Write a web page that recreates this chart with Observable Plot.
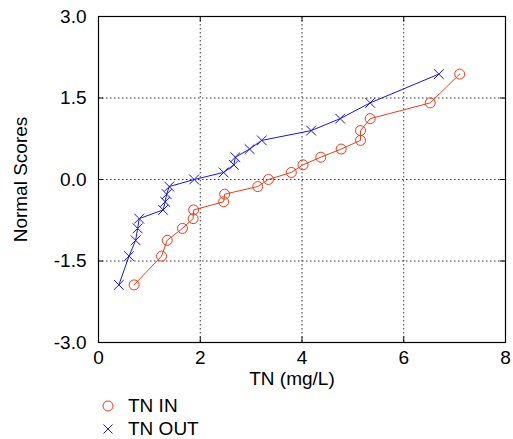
<!DOCTYPE html>
<html>
<head>
<meta charset="utf-8">
<script src="https://cdn.jsdelivr.net/npm/d3@7"></script>
<script src="https://cdn.jsdelivr.net/npm/@observablehq/plot@0.6"></script>
<style>
  body { margin: 0; background: #fff; font-family: "Liberation Sans", Arial, sans-serif; }
  #legend { position: relative; height: 44px; }
  .row { position: absolute; left: 98px; height: 22px; display: flex; align-items: center; font-size: 19px; color: #000; }
  .row svg { margin-right: 10px; }
</style>
</head>
<body>
<div id="chart"></div>
<div id="legend"></div>
<script>
// Data
const normalScores = [-1.94, -1.41, -1.12, -0.90, -0.72, -0.56, -0.41, -0.27, -0.13, 0.00, 0.13, 0.27, 0.41, 0.56, 0.72, 0.90, 1.12, 1.41, 1.94];
const tnIn  = [0.70, 1.24, 1.35, 1.65, 1.86, 1.87, 2.46, 2.48, 3.13, 3.34, 3.79, 4.02, 4.37, 4.77, 5.15, 5.15, 5.34, 6.52, 7.10];
const tnOut = [0.40, 0.60, 0.73, 0.77, 0.80, 1.27, 1.31, 1.34, 1.39, 1.88, 2.46, 2.66, 2.69, 2.97, 3.21, 4.18, 4.75, 5.34, 6.69];
const seriesNames = ["TN IN", "TN OUT"];
const xTicks = [0, 2, 4, 6, 8];
const yTicks = [-3, -1.5, 0, 1.5, 3];
const yTickLabels = ["-3.0", "-1.5", "0.0", "1.5", "3.0"];
const xLabel = "TN (mg/L)";
const yLabel = "Normal Scores";

const redColor = "#ee3c18";
const blueColor = "#1414f0";

const inData = tnIn.map((x, i) => ({x, y: normalScores[i]}));
const outData = tnOut.map((x, i) => ({x, y: normalScores[i]}));

const gridStyle = {stroke: "#333", strokeOpacity: 1, strokeDasharray: "1.5,2.5", strokeWidth: 1};

const chart = Plot.plot({
  width: 513,
  height: 395,
  marginTop: 16,
  marginLeft: 98,
  marginRight: 8,
  marginBottom: 53,
  style: {fontFamily: "'Liberation Sans', Arial, sans-serif", fontSize: "19px", background: "#fff", color: "#000"},
  x: {domain: [0, 8], ticks: xTicks},
  y: {domain: [-3, 3], ticks: yTicks},
  marks: [
    Plot.gridX(xTicks.slice(1, -1), gridStyle),
    Plot.gridY(yTicks.slice(1, -1), gridStyle),
    Plot.ruleX(xTicks, {x: d => d, y1: -3, y2: -2.9, stroke: "#000"}),
    Plot.ruleX(xTicks, {x: d => d, y1: 2.9, y2: 3, stroke: "#000"}),
    Plot.ruleY(yTicks, {y: d => d, x1: 0, x2: 0.1, stroke: "#000"}),
    Plot.ruleY(yTicks, {y: d => d, x1: 7.9, x2: 8, stroke: "#000"}),
    Plot.frame({stroke: "#000", strokeWidth: 1.2}),
    Plot.line(inData, {x: "x", y: "y", stroke: redColor, strokeWidth: 1}),
    Plot.dot(inData, {x: "x", y: "y", stroke: redColor, r: 5, fill: "none", strokeWidth: 1}),
    Plot.line(outData, {x: "x", y: "y", stroke: blueColor, strokeWidth: 1}),
    Plot.dot(outData, {x: "x", y: "y", stroke: blueColor, symbol: "times", r: 4.5, strokeWidth: 1}),
    Plot.axisX(xTicks, {tickSize: 0, tickPadding: 8, label: null}),
    Plot.axisY(yTicks, {tickSize: 0, tickPadding: 12, label: null, tickFormat: d => yTickLabels[yTicks.indexOf(d)]}),
    Plot.text([xLabel], {frameAnchor: "bottom", dy: 42, dx: -10, text: d => d, fill: "#000", textAnchor: "middle"}),
    Plot.text([yLabel], {frameAnchor: "left", dx: -78, rotate: -90, text: d => d, fill: "#000", textAnchor: "middle"})
  ]
});
document.getElementById("chart").appendChild(chart);

// Legend
const legend = document.getElementById("legend");
seriesNames.forEach((name, i) => {
  const row = document.createElement("div");
  row.className = "row";
  row.style.top = (i * 23) + "px";
  const ns = "http://www.w3.org/2000/svg";
  const s = document.createElementNS(ns, "svg");
  s.setAttribute("width", 20);
  s.setAttribute("height", 20);
  if (i === 0) {
    const c = document.createElementNS(ns, "circle");
    c.setAttribute("cx", 10); c.setAttribute("cy", 10); c.setAttribute("r", 5);
    c.setAttribute("fill", "none"); c.setAttribute("stroke", redColor);
    s.appendChild(c);
  } else {
    const p = document.createElementNS(ns, "path");
    p.setAttribute("d", "M5.5,5.5L14.5,14.5M14.5,5.5L5.5,14.5");
    p.setAttribute("stroke", blueColor);
    s.appendChild(p);
  }
  row.appendChild(s);
  const t = document.createElement("span");
  t.textContent = name;
  row.appendChild(t);
  legend.appendChild(row);
});
</script>
</body>
</html>
